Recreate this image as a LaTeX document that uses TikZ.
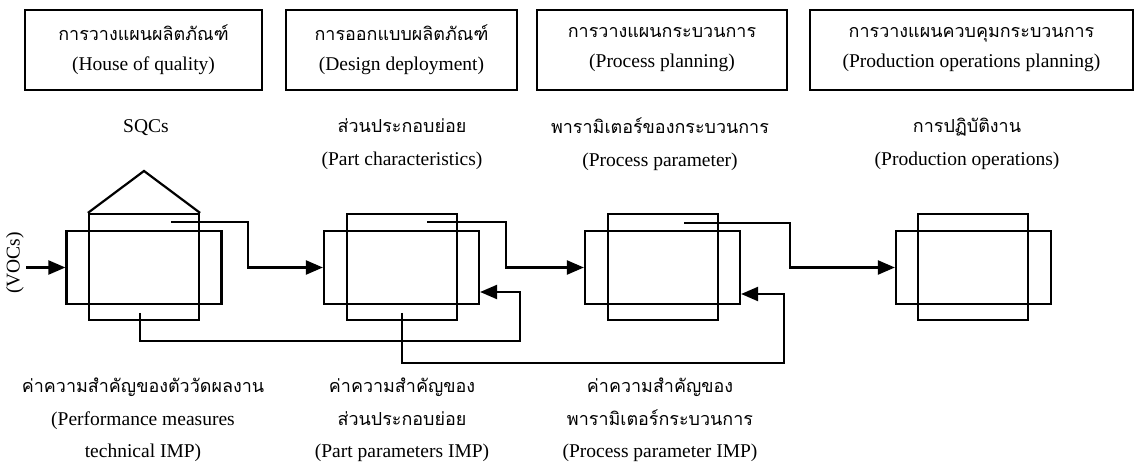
\documentclass[tikz,border=0pt]{standalone}
\usepackage{fontspec}
\setmainfont{Liberation Serif}
\newfontfamily\thai[Script=Thai,Scale=0.92]{Loma}
\usetikzlibrary{arrows.meta}
\begin{document}
\begin{tikzpicture}[x=1pt,y=-1pt,
  plain/.style={line width=2.2pt},
  headbox/.style={draw, line width=2.2pt, minimum height=80pt, align=center, inner sep=0pt, font=\fontsize{19.5}{30}\selectfont},
  widebox/.style={draw, line width=2.2pt, minimum width=155pt, minimum height=73pt, inner sep=0pt},
  tallbox/.style={draw, line width=2.2pt, minimum width=110pt, minimum height=106pt, inner sep=0pt},
  lbl/.style={align=center, inner sep=0pt, font=\fontsize{19.5}{32.5}\selectfont},
  conn/.style={line width=2.2pt, -{Triangle[length=17pt,width=14pt]}}]

\useasboundingbox (0,0) rectangle (1135,470);

% header boxes
\node[headbox, minimum width=237pt] (h1) at (143.5,50) {{\thai การวางแผนผลิตภัณฑ์}\\(House of quality)};
\node[headbox, minimum width=231pt] (h2) at (401.5,50) {{\thai การออกแบบผลิตภัณฑ์}\\(Design deployment)};
\node[headbox, minimum width=250pt] (h3) at (662,50) {{\thai การวางแผนกระบวนการ}\\(Process planning)};
\node[headbox, minimum width=323pt] (h4) at (971.5,50) {{\thai การวางแผนควบคุมกระบวนการ}\\(Production operations planning)};

% upper labels
\node[lbl] (q1) at (146,128) {SQCs};
\node[lbl] (q2) at (402,144) {{\thai ส่วนประกอบย่อย}\\(Part characteristics)};
\node[lbl] (q3) at (660,144) {{\thai พารามิเตอร์ของกระบวนการ}\\(Process parameter)};
\node[lbl] (q4) at (967,144) {{\thai การปฏิบัติงาน}\\(Production operations)};

% lower labels
\node[lbl] (b1) at (143,420) {{\thai ค่าความสำคัญของตัววัดผลงาน}\\(Performance measures\\technical IMP)};
\node[lbl] (b2) at (402,420) {{\thai ค่าความสำคัญของ}\\{\thai ส่วนประกอบย่อย}\\(Part parameters IMP)};
\node[lbl] (b3) at (660,420) {{\thai ค่าความสำคัญของ}\\{\thai พารามิเตอร์กระบวนการ}\\(Process parameter IMP)};

% matrices
\node[tallbox] (t1) at (144,267) {};
\node[widebox] (w1) at (144,267.5) {};
\node[tallbox] (t2) at (402,267) {};
\node[widebox] (w2) at (401.5,267.5) {};
\node[tallbox] (t3) at (663,267) {};
\node[widebox] (w3) at (662.5,267.5) {};
\node[tallbox] (t4) at (973,267) {};
\node[widebox] (w4) at (973.5,267.5) {};

% roof
\coordinate (apex) at (144,171);
\draw[plain, line join=miter] (t1.north west) -- (apex) -- (t1.north east);

% VOCs input
\node[rotate=90, inner sep=2pt, font=\fontsize{19.5}{24}\selectfont] (voc) at (15,263) {(VOCs)};
\draw[conn] (voc.south |- w1.west) -- (w1.west);

% forward connectors
\coordinate (s1) at (171,222);
\coordinate (s2) at (427,222);
\coordinate (s3) at (684,223);
\draw[conn] (s1) -- ++(77,0) |- (w2.west);
\draw[conn] (s2) -- ++(79,0) |- (w3.west);
\draw[conn] (s3) -- ++(106,0) |- (w4.west);

% feedback connectors
\coordinate (f1) at (140,313);
\coordinate (f2) at (402,313);
\draw[conn] (f1) |- (520,341) |- ([yshift=-24.5pt]w2.east);
\draw[conn] (f2) |- (784,363) |- ([yshift=-26.5pt]w3.east);
\end{tikzpicture}
\end{document}
